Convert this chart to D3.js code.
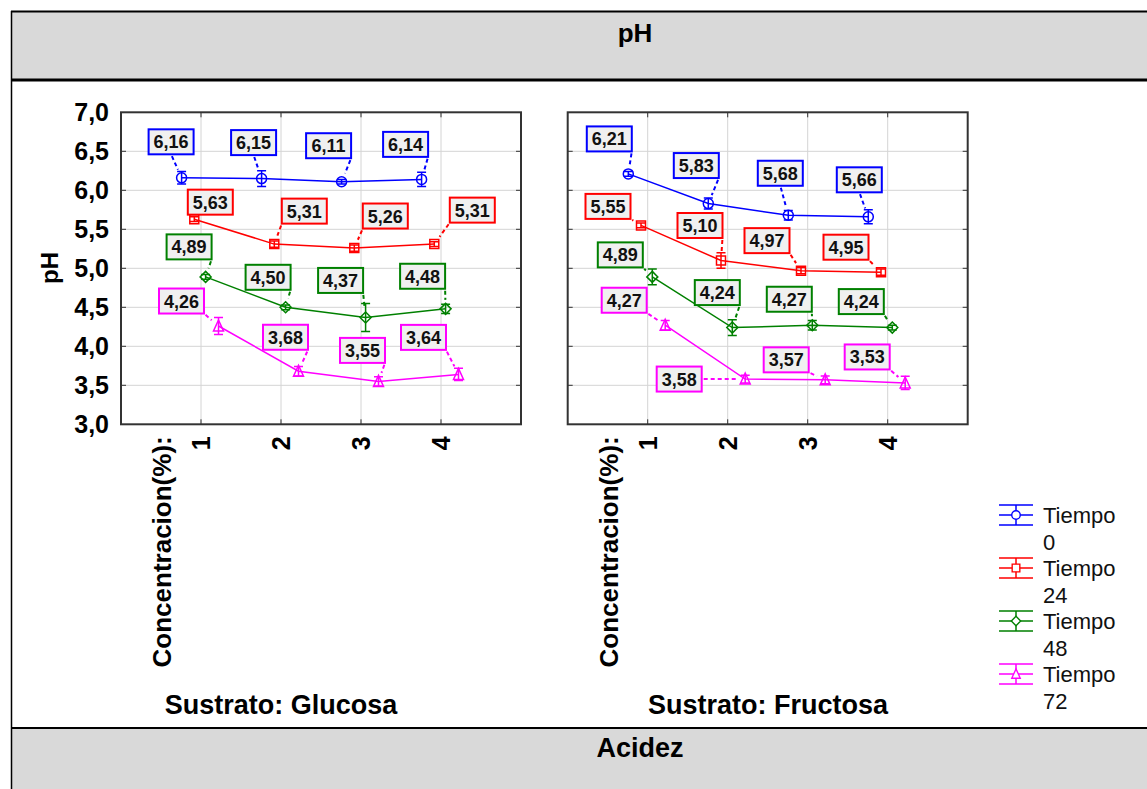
<!DOCTYPE html>
<html>
<head>
<meta charset="utf-8">
<script src="https://cdn.jsdelivr.net/npm/d3@7"></script>
<style>
  body { margin: 0; background: #fff; }
  svg { display: block; }
  text { font-family: "Liberation Sans", Arial, Helvetica, sans-serif; }
</style>
</head>
<body>
<svg id="chart" width="1147" height="789"></svg>
<script>
// ---- data ----
const concentraciones = [1, 2, 3, 4];
const tiempos = ["0", "24", "48", "72"];
const sustratos = ["Glucosa", "Fructosa"];
const yTicks = [3.0, 3.5, 4.0, 4.5, 5.0, 5.5, 6.0, 6.5, 7.0];

// pH means, one row per sampling time (0, 24, 48, 72 h), one column per concentration
const phGlucosa = [
  [6.16, 6.15, 6.11, 6.14],
  [5.63, 5.31, 5.26, 5.31],
  [4.89, 4.50, 4.37, 4.48],
  [4.26, 3.68, 3.55, 3.64]
];
const errGlucosa = [
  [0.08, 0.10, 0.03, 0.09],
  [0.03, 0.04, 0.04, 0.03],
  [0.03, 0.03, 0.18, 0.06],
  [0.11, 0.06, 0.06, 0.08]
];
const phFructosa = [
  [6.21, 5.83, 5.68, 5.66],
  [5.55, 5.10, 4.97, 4.95],
  [4.89, 4.24, 4.27, 4.24],
  [4.27, 3.58, 3.57, 3.53]
];
const errFructosa = [
  [0.03, 0.07, 0.06, 0.09],
  [0.03, 0.10, 0.04, 0.04],
  [0.10, 0.10, 0.06, 0.03],
  [0.06, 0.05, 0.05, 0.085]
];

// ---- layout ----
const W = 1147, H = 789;
const colores = ["#0000ff", "#ff0000", "#008000", "#ff00ff"];
const marcadores = ["circle", "square", "diamond", "triangle"];
const dodge = [-19.4, -6.7, 4.6, 17.5];      // horizontal shift of each time series
const plotTop = 112.3, plotBottom = 424.3, plotWidth = 400;

// label box centre relative to its point, [dx, dy] in px
const labelPosGlucosa = [
  [[-10.5, -36], [-8, -36], [-13, -36], [-16, -35]],
  [[16, -17], [30, -33], [31, -32], [38, -34]],
  [[-16.5, -30], [-17.5, -30], [-25, -37], [-23, -32.6]],
  [[-37, -25], [-13, -34], [-16, -31], [-35, -37]]
];
const labelPosFructosa = [
  [[-19, -35], [-12, -38], [-8, -42], [-9, -37]],
  [[-33, -19], [-21, -35], [-34, -30], [-35, -25]],
  [[-32, -22], [-15, -35], [-23, -26], [-31, -26]],
  [[-41, -25], [-66, 0], [-39, -20], [-38, -26]]
];

const panels = [
  { x0: 121, title: "Sustrato: " + sustratos[0], titleX: 281, ph: phGlucosa, err: errGlucosa, lab: labelPosGlucosa, yLabels: true },
  { x0: 567.7, title: "Sustrato: " + sustratos[1], titleX: 768, ph: phFructosa, err: errFructosa, lab: labelPosFructosa, yLabels: false }
];

const comma = d3.formatLocale({ decimal: ",", thousands: ".", grouping: [3], currency: ["", ""] });
const fmt1 = comma.format(".1f");
const fmt2 = comma.format(".2f");

const svg = d3.select("#chart");

// ---- frame and header / footer bands ----
svg.append("rect").attr("x", 0).attr("y", 0).attr("width", W).attr("height", H).attr("fill", "#fff");
svg.append("rect").attr("x", 11).attr("y", 11).attr("width", W).attr("height", 69).attr("fill", "#d9d9d9");
svg.append("rect").attr("x", 11).attr("y", 728).attr("width", W).attr("height", 70).attr("fill", "#d9d9d9");
svg.append("line").attr("x1", 11).attr("x2", W).attr("y1", 11.5).attr("y2", 11.5).attr("stroke", "#000").attr("stroke-width", 2);
svg.append("line").attr("x1", 11).attr("x2", W).attr("y1", 80).attr("y2", 80).attr("stroke", "#000").attr("stroke-width", 3);
svg.append("line").attr("x1", 11).attr("x2", W).attr("y1", 728).attr("y2", 728).attr("stroke", "#000").attr("stroke-width", 2);
svg.append("line").attr("x1", 11.5).attr("x2", 11.5).attr("y1", 11).attr("y2", H).attr("stroke", "#000").attr("stroke-width", 1.5);

svg.append("text").attr("x", 635).attr("y", 42).attr("text-anchor", "middle")
  .attr("font-size", 26).attr("font-weight", "bold").text("pH");
svg.append("text").attr("x", 640).attr("y", 757).attr("text-anchor", "middle")
  .attr("font-size", 27).attr("font-weight", "bold").text("Acidez");

// y axis title
svg.append("text").attr("transform", "translate(50,268) rotate(-90)").attr("text-anchor", "middle")
  .attr("dy", "0.35em").attr("font-size", 24).attr("font-weight", "bold").text("pH");

const y = d3.scaleLinear().domain([3, 7]).range([plotBottom, plotTop]);

function markerPath(kind) {
  switch (kind) {
    case "circle": return d3.path ? "M5,0A5,5 0 1,1 -5,0A5,5 0 1,1 5,0Z" : "";
    case "square": return "M-4.5,-4.5H4.5V4.5H-4.5Z";
    case "diamond": return "M0,-5.5L5.5,0L0,5.5L-5.5,0Z";
    default: return "M0,-6L5,5H-5Z";
  }
}

// leader from the closest anchor of the label box towards its point
function leader(cx, cy, bw, bh, px, py) {
  const anchors = [];
  [-1, 0, 1].forEach(ix => [-1, 0, 1].forEach(iy => {
    if (ix !== 0 || iy !== 0) anchors.push([cx + ix * bw / 2, cy + iy * bh / 2]);
  }));
  let best = anchors[0], bd = Infinity;
  anchors.forEach(a => { const d = Math.hypot(a[0] - px, a[1] - py); if (d < bd) { bd = d; best = a; } });
  const len = bd - 9;
  if (len < 3) return null;
  const ux = (px - best[0]) / bd, uy = (py - best[1]) / bd;
  return [best[0] + ux * 2, best[1] + uy * 2, best[0] + ux * len, best[1] + uy * len];
}

panels.forEach(p => {
  const x = d3.scaleLinear().domain([0, 5]).range([p.x0, p.x0 + plotWidth]);
  const g = svg.append("g");

  // grid
  g.selectAll(".gy").data(yTicks.slice(1, -1)).join("line")
    .attr("x1", p.x0).attr("x2", p.x0 + plotWidth)
    .attr("y1", d => y(d)).attr("y2", d => y(d))
    .attr("stroke", "#d4d4d4").attr("stroke-width", 1);
  g.selectAll(".gx").data(concentraciones).join("line")
    .attr("x1", d => x(d)).attr("x2", d => x(d))
    .attr("y1", plotTop).attr("y2", plotBottom)
    .attr("stroke", "#d4d4d4").attr("stroke-width", 1);

  // inner tick marks on all four sides
  const tk = 5;
  g.selectAll(".tl").data(yTicks.slice(1, -1)).join("path")
    .attr("d", d => `M${p.x0},${y(d)}h${tk}M${p.x0 + plotWidth},${y(d)}h${-tk}`)
    .attr("stroke", "#333").attr("stroke-width", 1);
  g.selectAll(".tb").data(concentraciones).join("path")
    .attr("d", d => `M${x(d)},${plotBottom}v${-tk}M${x(d)},${plotTop}v${tk}`)
    .attr("stroke", "#333").attr("stroke-width", 1);

  // frame
  g.append("rect").attr("x", p.x0).attr("y", plotTop).attr("width", plotWidth).attr("height", plotBottom - plotTop)
    .attr("fill", "none").attr("stroke", "#333").attr("stroke-width", 2);

  // y tick labels
  if (p.yLabels) {
    const ay = g.append("g").attr("transform", `translate(${p.x0},0)`)
      .call(d3.axisLeft(y).tickValues(yTicks).tickFormat(fmt1).tickSize(0).tickPadding(12));
    ay.select(".domain").remove();
    ay.selectAll("text").attr("font-size", 25).attr("font-weight", "bold").attr("fill", "#000")
      .attr("font-family", '"Liberation Sans", Arial, sans-serif');
  }

  // x tick labels (rotated)
  const ax = g.append("g").attr("transform", `translate(0,${plotBottom})`)
    .call(d3.axisBottom(x).tickValues(concentraciones).tickFormat(d3.format("d")).tickSize(0));
  ax.select(".domain").remove();
  ax.selectAll("text").attr("transform", "rotate(-90)").attr("text-anchor", "end")
    .attr("x", -12).attr("y", 0).attr("dy", "0.35em")
    .attr("font-size", 25).attr("font-weight", "bold").attr("fill", "#000")
    .attr("font-family", '"Liberation Sans", Arial, sans-serif');

  g.append("text").attr("transform", `translate(${p.x0 + 41},${plotBottom + 12}) rotate(-90)`)
    .attr("text-anchor", "end").attr("dy", "0.35em")
    .attr("font-size", 26).attr("font-weight", "bold").text("Concentracion(%):");

  g.append("text").attr("x", p.titleX).attr("y", 714).attr("text-anchor", "middle")
    .attr("font-size", 27).attr("font-weight", "bold").text(p.title);

  // series
  tiempos.forEach((t, s) => {
    const col = colores[s];
    const pts = concentraciones.map((c, i) => ({
      x: x(c) + dodge[s], y: y(p.ph[s][i]), v: p.ph[s][i], e: p.err[s][i], lab: p.lab[s][i]
    }));
    const sg = g.append("g");
    sg.append("path").attr("d", d3.line().x(d => d.x).y(d => d.y)(pts))
      .attr("fill", "none").attr("stroke", col).attr("stroke-width", 1.5);

    // error bars
    pts.forEach((d, i) => {
      const yHi = y(p.ph[s][i] + d.e), yLo = y(p.ph[s][i] - d.e);
      sg.append("path")
        .attr("d", `M${d.x},${yHi}V${yLo}M${d.x - 4.5},${yHi}h9M${d.x - 4.5},${yLo}h9`)
        .attr("stroke", col).attr("stroke-width", 1.5).attr("fill", "none");
      sg.append("path").attr("d", markerPath(marcadores[s]))
        .attr("transform", `translate(${d.x},${d.y})`)
        .attr("fill", "none").attr("stroke", col).attr("stroke-width", 1.5);
    });

    // value labels
    pts.forEach(d => {
      const bw = 45, bh = 25;
      const cx = d.x + d.lab[0], cy = d.y + d.lab[1];
      const ld = leader(cx, cy, bw, bh, d.x, d.y);
      if (ld) {
        sg.append("line").attr("x1", ld[0]).attr("y1", ld[1]).attr("x2", ld[2]).attr("y2", ld[3])
          .attr("stroke", col).attr("stroke-width", 2).attr("stroke-dasharray", "4,3");
      }
      sg.append("rect").attr("x", cx - bw / 2).attr("y", cy - bh / 2).attr("width", bw).attr("height", bh)
        .attr("fill", "#f0f0f0").attr("stroke", col).attr("stroke-width", 2);
      sg.append("text").attr("x", cx).attr("y", cy).attr("dy", "0.36em").attr("text-anchor", "middle")
        .attr("font-size", 18).attr("font-weight", "bold").attr("fill", "#111").text(fmt2(d.v));
    });
  });
});

// ---- legend ----
const lg = svg.append("g");
tiempos.forEach((t, s) => {
  const cy = 515 + 53 * s, cx = 1016, col = colores[s];
  lg.append("path")
    .attr("d", `M${cx - 17},${cy - 10}h34M${cx - 17},${cy}h34M${cx - 17},${cy + 10}h34M${cx},${cy - 10}V${cy + 10}`)
    .attr("stroke", col).attr("stroke-width", 1.5).attr("fill", "none");
  lg.append("path").attr("d", markerPath(marcadores[s])).attr("transform", `translate(${cx},${cy}) scale(0.85)`)
    .attr("fill", "#fff").attr("stroke", col).attr("stroke-width", 1.6);
  lg.append("text").attr("x", 1043).attr("y", cy + 8).attr("font-size", 22).attr("fill", "#111").text("Tiempo");
  lg.append("text").attr("x", 1043).attr("y", cy + 35).attr("font-size", 22).attr("fill", "#111").text(t);
});
</script>
</body>
</html>
